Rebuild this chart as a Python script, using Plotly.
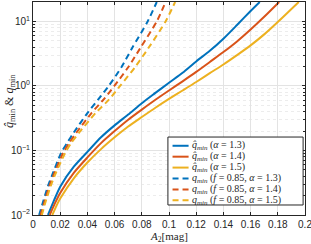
import plotly.graph_objects as go

# ---- data ----
x_hat13 = [0.011, 0.015, 0.02, 0.03, 0.04, 0.05, 0.06, 0.07, 0.08, 0.09, 0.10, 0.11, 0.12, 0.13, 0.14, 0.15, 0.16, 0.1667]
y_hat13 = [0.01, 0.016, 0.0275, 0.056, 0.095, 0.16, 0.245, 0.36, 0.54, 0.78, 1.12, 1.6, 2.4, 3.5, 5.4, 8.8, 14.5, 20]

x_hat14 = [0.0123, 0.016, 0.02, 0.03, 0.04, 0.05, 0.06, 0.07, 0.08, 0.09, 0.10, 0.11, 0.12, 0.13, 0.14, 0.15, 0.16, 0.17, 0.181]
y_hat14 = [0.01, 0.015, 0.022, 0.045, 0.078, 0.13, 0.20, 0.30, 0.43, 0.61, 0.85, 1.18, 1.65, 2.35, 3.35, 4.9, 7.5, 11.8, 20]

x_hat15 = [0.0142, 0.018, 0.02, 0.03, 0.04, 0.05, 0.06, 0.07, 0.08, 0.09, 0.10, 0.11, 0.12, 0.13, 0.14, 0.15, 0.16, 0.17, 0.18, 0.1954]
y_hat15 = [0.01, 0.015, 0.018, 0.037, 0.065, 0.105, 0.16, 0.235, 0.33, 0.46, 0.63, 0.85, 1.15, 1.58, 2.15, 3.0, 4.25, 6.3, 9.8, 20]

y_q = [0.01, 0.0175, 0.028, 0.041, 0.092, 0.13, 0.19, 0.38, 0.62, 1.0, 1.95, 3.9, 10, 20]
x_q13 = [0.0045, 0.008, 0.011, 0.014, 0.0207, 0.025, 0.030, 0.040, 0.048, 0.0557, 0.065, 0.073, 0.0843, 0.091]
x_q14 = [0.0055, 0.009, 0.012, 0.015, 0.0222, 0.0265, 0.032, 0.043, 0.052, 0.0598, 0.070, 0.079, 0.0910, 0.0975]
x_q15 = [0.0065, 0.0098, 0.013, 0.016, 0.0237, 0.028, 0.034, 0.046, 0.056, 0.0640, 0.075, 0.085, 0.0975, 0.1045]

x_ticks = [0, 0.02, 0.04, 0.06, 0.08, 0.1, 0.12, 0.14, 0.16, 0.18, 0.2]
x_ticktext = ["0", "0.02", "0.04", "0.06", "0.08", "0.1", "0.12", "0.14", "0.16", "0.18", "0.2"]
y_ticks = [0.01, 0.1, 1, 10]
y_ticktext = ["10<sup>−2</sup>", "10<sup>−1</sup>", "10<sup>0</sup>", "10<sup>1</sup>"]

x_title = "<i>A</i><sub>2</sub>[mag]"
y_title = "<i>q̂</i><sub>min</sub> & <i>q</i><sub>min</sub>"

legend_labels = [
    "<i>q̂<sub>min</sub></i> (<i>α</i> = 1.3)",
    "<i>q̂<sub>min</sub></i> (<i>α</i> = 1.4)",
    "<i>q̂<sub>min</sub></i> (<i>α</i> = 1.5)",
    "<i>q<sub>min</sub></i> (<i>f</i> = 0.85, <i>α</i> = 1.3)",
    "<i>q<sub>min</sub></i> (<i>f</i> = 0.85, <i>α</i> = 1.4)",
    "<i>q<sub>min</sub></i> (<i>f</i> = 0.85, <i>α</i> = 1.5)",
]

BLUE, ORANGE, YELLOW = "#0072BD", "#D95319", "#EDB120"
DASH = "6px,4px"

series = [
    (x_hat13, y_hat13, BLUE, "solid"),
    (x_hat14, y_hat14, ORANGE, "solid"),
    (x_hat15, y_hat15, YELLOW, "solid"),
    (x_q13, y_q, BLUE, DASH),
    (x_q14, y_q, ORANGE, DASH),
    (x_q15, y_q, YELLOW, DASH),
]

fig = go.Figure()
for (xs, ys, col, dash), name in zip(series, legend_labels):
    fig.add_trace(go.Scatter(x=xs, y=ys, mode="lines", name=name,
                             line=dict(color=col, width=2, dash=dash, shape="spline", smoothing=0.7),
                             showlegend=False, hoverinfo="skip"))

# minor grid positions for log axis
minor_vals = [m * 10 ** e for e in (-2, -1, 0, 1) for m in range(2, 10) if m * 10 ** e <= 20]

AXC = "#262626"
SERIF = "Liberation Serif, DejaVu Serif, serif"
fig.update_layout(
    template="none",
    width=311, height=244,
    margin=dict(l=33, r=6, t=2, b=29, autoexpand=False),
    paper_bgcolor="white", plot_bgcolor="white",
    font=dict(family="Liberation Sans, Arial, sans-serif", size=10, color=AXC),
    xaxis=dict(range=[0, 0.2], tickmode="array", tickvals=x_ticks, ticktext=x_ticktext,
               automargin=False, ticklabeloverflow="allow",
               showgrid=True, gridcolor="#e3e3e3", gridwidth=1,
               showline=True, linecolor=AXC, linewidth=1, mirror="ticks",
               ticks="inside", ticklen=3, tickcolor=AXC, zeroline=False,
               tickfont=dict(size=10)),
    yaxis=dict(type="log", range=[-2, 1.30103], tickmode="array", tickvals=y_ticks, ticktext=y_ticktext,
               automargin=False, ticklabeloverflow="allow",
               showgrid=True, gridcolor="#e3e3e3", gridwidth=1,
               showline=True, linecolor=AXC, linewidth=1, mirror="ticks",
               ticks="inside", ticklen=3, tickcolor=AXC, zeroline=False,
               tickfont=dict(size=10),
               minor=dict(tickmode="array", tickvals=minor_vals, ticks="inside", ticklen=2,
                          tickcolor=AXC, showgrid=True, gridcolor="#ececec", griddash="dot")),
)

# axis titles
fig.add_annotation(xref="paper", yref="paper", x=0.5, y=-0.102, text=x_title, showarrow=False,
                   xanchor="center", yanchor="middle", borderpad=0,
                   font=dict(family=SERIF, size=11, color=AXC))
fig.add_annotation(xref="paper", yref="paper", x=-0.085, y=0.535, text=y_title, showarrow=False,
                   textangle=-90, xanchor="center", yanchor="middle",
                   font=dict(family=SERIF, size=12, color=AXC))

# legend box (drawn as layout decoration)
lx0, lx1, ly0, ly1 = 0.496, 0.993, 0.047, 0.366
fig.add_shape(type="rect", xref="paper", yref="paper", x0=lx0, x1=lx1, y0=ly0, y1=ly1,
              line=dict(color=AXC, width=1), fillcolor="white", layer="above")
row0, drow = 0.325, 0.0512
for i, ((xs, ys, col, dash), lab) in enumerate(zip(series, legend_labels)):
    yy = row0 - i * drow
    fig.add_shape(type="line", xref="paper", yref="paper", x0=0.513, x1=0.572, y0=yy, y1=yy,
                  line=dict(color=col, width=2, dash=dash), layer="above")
    fig.add_annotation(xref="paper", yref="paper", x=0.576, y=yy, text=lab, showarrow=False,
                       xanchor="left", yanchor="middle",
                       font=dict(family=SERIF, size=10, color=AXC))

fig.write_html("out.html", config={"displayModeBar": False, "staticPlot": True},
               post_script="document.body.style.margin='0px';document.body.style.overflow='hidden';")
